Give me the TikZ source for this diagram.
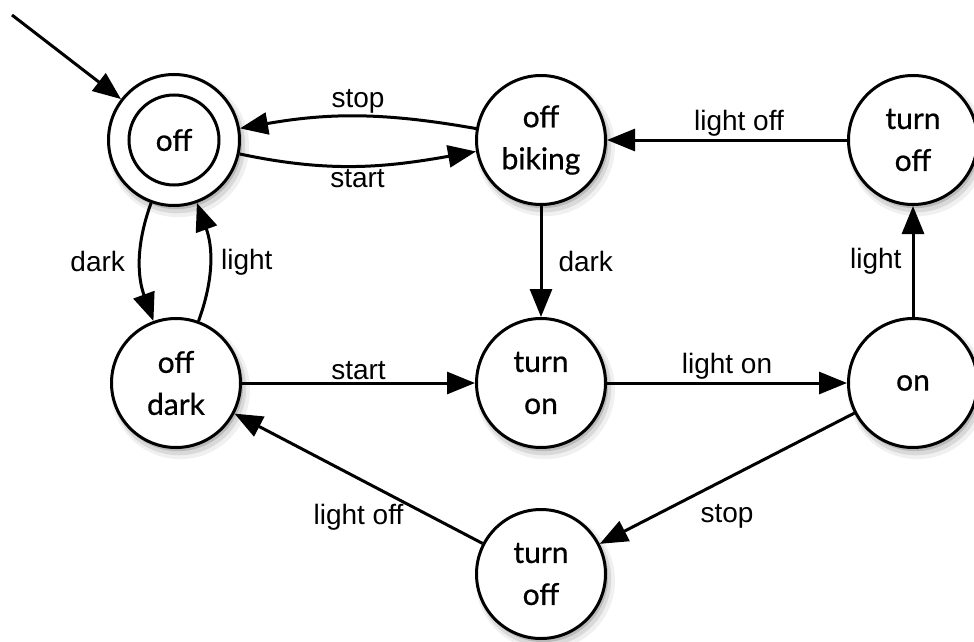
\documentclass[tikz,border=0pt]{standalone}
\usepackage{fontspec}
\setmainfont{Lato}
\newfontfamily\nodefont[FakeBold=0.6]{Lato}
\newfontfamily\lblfont{Liberation Sans}
\usetikzlibrary{arrows.meta,shadows}
\tikzset{
  st/.style={circle, draw, line width=3pt, fill=white, minimum size=129pt, inner sep=0pt,
    align=center, font=\nodefont\fontsize{30}{42}\selectfont,
    drop shadow={shadow xshift=4pt, shadow yshift=-6pt, opacity=.12, shadow scale=1.08},
    drop shadow={shadow xshift=3pt, shadow yshift=-5pt, opacity=.2, shadow scale=1.04},
    drop shadow={shadow xshift=2pt, shadow yshift=-3pt, opacity=.35, shadow scale=1.01}},
  inner/.style={circle, draw, line width=3pt, minimum size=90pt, inner sep=0pt,
    font=\nodefont\fontsize{30}{42}\selectfont},
  e/.style={line width=3pt, -{Triangle[length=28pt,width=22pt]}},
  lbl/.style={font=\lblfont\fontsize{28}{32}\selectfont, inner sep=2pt}
}
\begin{document}
\begin{tikzpicture}[x=1pt,y=1pt]
\useasboundingbox (0,0) rectangle (974,-642);
\node[st, minimum size=131pt] (off) at (174,-140) {};
\node[inner] (offin) at (174,-140) {off};
\node[st] (offbiking) at (541,-140) {off\\biking};
\node[st] (turnoffA) at (913,-140) {turn\\off};
\node[st] (offdark) at (176,-383) {off\\dark};
\node[st] (turnon) at (541,-383) {turn\\on};
\node[st] (on) at (913,-383) {on};
\node[st] (turnoffB) at (541,-574) {turn\\off};
\coordinate (init) at (12,-15);

\draw[e] (init) -- (off);
\draw[e] (offbiking) to[out=170,in=10] node[lbl, above=0pt]{stop} (off);
\draw[e] (off) to[out=-12,in=190] node[lbl, below=0pt]{start} (offbiking);
\draw[e] (off) to[out=-110,in=110] node[lbl, left=12pt]{dark} (offdark);
\draw[e] (offdark) to[out=70,in=-70] node[lbl, right=8pt]{light} (off);
\draw[e] (offbiking) -- node[lbl, right=14pt]{dark} (turnon);
\draw[e] (on) -- node[lbl, left=8pt]{light} (turnoffA);
\draw[e] (turnoffA) -- node[lbl, pos=0.45, above=0pt]{light off} (offbiking);
\draw[e] (offdark) -- node[lbl, above=0pt]{start} (turnon);
\draw[e] (turnon) -- node[lbl, above=0pt]{light on} (on);
\draw[e] (on) -- node[lbl, below=22pt]{stop} (turnoffB);
\draw[e] (turnoffB) -- node[lbl, below=22pt]{light off} (offdark);
\end{tikzpicture}
\end{document}
